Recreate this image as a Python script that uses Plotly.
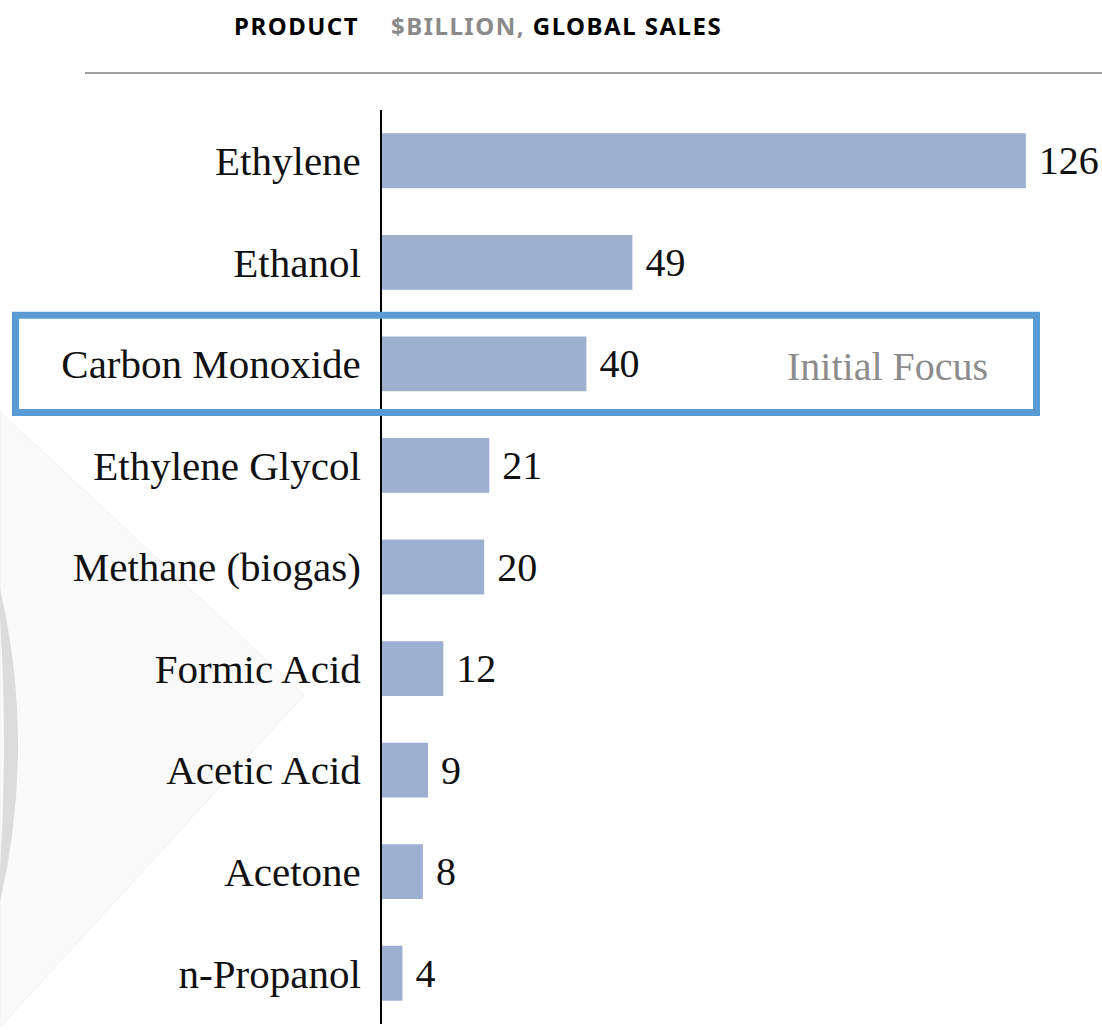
import plotly.graph_objects as go

# ---- data ----
products = ["Ethylene", "Ethanol", "Carbon Monoxide", "Ethylene Glycol",
            "Methane (biogas)", "Formic Acid", "Acetic Acid", "Acetone", "n-Propanol"]
sales = [126, 49, 40, 21, 20, 12, 9, 8, 4]
focus_product = "Carbon Monoxide"
focus_label = "Initial Focus"
header_left = "PRODUCT"
header_unit = "$BILLION,"
header_rest = "GLOBAL SALES"

# ---- geometry helpers (pixel -> paper) ----
W, H = 1102, 1030
L, R, T, B = 382, 0, 110, 6
pw, ph = W - L - R, H - T - B


def px(x):
    return (x - L) / pw


def py(y):
    return (H - B - y) / ph


n = len(products)
serif = "Liberation Serif, Times New Roman, serif"
cond = "Noto Sans, DejaVu Sans, sans-serif"
hstyle = "font-stretch:condensed;letter-spacing:1.5px"

fig = go.Figure()
fig.add_trace(go.Bar(
    x=sales, y=products, orientation="h",
    marker=dict(color="#9DB0CF", line=dict(width=0)),
    width=0.54,
    text=sales, texttemplate=" %{x}", textposition="outside",
    textfont=dict(family=serif, size=40, color="#111111"),
    cliponaxis=False, constraintext="none",
    hoverinfo="skip",
))

# focus box around the highlighted row
fi = products.index(focus_product)
half = 0.478
fig.add_shape(type="rect", xref="paper", yref="paper",
              x0=px(15.5), x1=px(1036.5),
              y0=(n - 0.5 - (fi + half)) / n, y1=(n - 0.5 - (fi - half)) / n,
              line=dict(color="#5B9BD5", width=7), fillcolor="rgba(0,0,0,0)",
              layer="above")

# decorative background shapes
tri = f"M {px(0)} {py(412)} L {px(304)} {py(695)} L {px(0)} {py(1027)} Z"
fig.add_shape(type="path", xref="paper", yref="paper", path=tri,
              fillcolor="#fafafa", line=dict(color="#f0f0f0", width=1), layer="below")
arc = (f"M {px(0)} {py(589)} Q {px(36)} {py(745)} {px(0)} {py(902)} "
       f"L {px(0)} {py(872)} Q {px(8)} {py(745)} {px(0)} {py(618)} Z")
fig.add_shape(type="path", xref="paper", yref="paper", path=arc,
              fillcolor="#dcdcdc", line=dict(width=0), layer="below")

# header rule
fig.add_shape(type="line", xref="paper", yref="paper",
              x0=px(85), x1=px(1102), y0=py(73), y1=py(73),
              line=dict(color="#a0a0a0", width=2))

# header texts
fig.add_annotation(xref="paper", yref="paper", x=px(232), y=py(25),
                   xanchor="left", yanchor="middle", showarrow=False,
                   text=f"<span style='{hstyle}'><b>{header_left}</b></span>",
                   font=dict(family=cond, size=24, color="#000000"))
fig.add_annotation(xref="paper", yref="paper", x=px(389), y=py(25),
                   xanchor="left", yanchor="middle", showarrow=False,
                   text=(f"<span style='{hstyle}'><b><span style='color:#8a8a8a'>{header_unit}</span> "
                         f"{header_rest}</b></span>"),
                   font=dict(family=cond, size=24, color="#000000"))

# focus label
fig.add_annotation(xref="paper", yref="y", x=px(887), y=focus_product,
                   xanchor="center", yanchor="middle", showarrow=False, yshift=-3,
                   text=focus_label, font=dict(family=serif, size=40, color="#8c8c8c"))

fig.update_layout(
    width=W, height=H,
    margin=dict(l=L, r=R, t=T, b=B, autoexpand=False),
    paper_bgcolor="white", plot_bgcolor="rgba(0,0,0,0)",
    showlegend=False, bargap=0.46,
    xaxis=dict(range=[0, pw / 5.11], visible=False, fixedrange=True),
    yaxis=dict(range=[n - 0.5, -0.5], type="category",
               showline=True, linecolor="#000000", linewidth=2,
               ticks="", showgrid=False, zeroline=False, ticklabelstandoff=11,
               tickfont=dict(family=serif, size=41, color="#111111"),
               fixedrange=True),
)

fig.write_html("out.html", config={"displayModeBar": False},
               post_script="document.body.style.margin='0';document.body.style.overflow='hidden';")
